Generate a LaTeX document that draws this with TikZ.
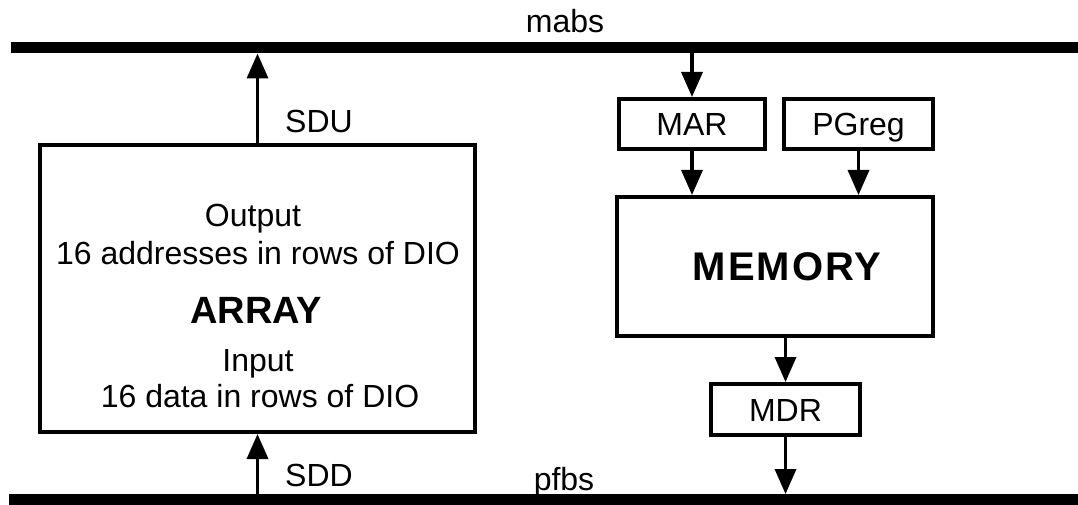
\documentclass[tikz,border=0pt]{standalone}
\usepackage{fontspec}
\setmainfont{Liberation Sans}
\usetikzlibrary{arrows.meta}

\tikzset{
  lbl/.style={font=\fontsize{32}{38}\selectfont, inner sep=0pt, anchor=base},
  boxlbl/.style={font=\fontsize{32}{38}\selectfont, text height=23pt, text depth=0pt},
  regbox/.style={draw, line width=4pt, rectangle, inner sep=0pt, boxlbl},
  bigbox/.style={draw, line width=4pt, rectangle, inner sep=0pt},
  bus/.style={fill=black, rectangle, inner sep=0pt, outer sep=0pt},
  conn/.style={line width=3.5pt, -{Triangle[width=21pt,length=25pt]}},
}

\begin{document}
\begin{tikzpicture}[x=1pt, y=-1pt]
  \useasboundingbox (0,0) rectangle (1078,505);

  % buses
  \node[bus, minimum width=1067pt, minimum height=11pt] (mabsbus) at (544.5,48) {};
  \node[bus, minimum width=1069pt, minimum height=14pt] (pfbsbus) at (543.5,501) {};
  \node[lbl] (mabs) at (565,33) {mabs};
  \node[lbl] (pfbs) at (564,490) {pfbs};

  % systolic array
  \node[bigbox, minimum width=435pt, minimum height=287pt] (array) at (257.5,288.5) {};
  \node[lbl] (outtxt) at (253,226) {Output};
  \node[lbl] (outdesc) at (258,264) {16 addresses in rows of DIO};
  \node[lbl, font=\fontsize{38}{44}\selectfont\bfseries] (arraytxt) at (256,323) {ARRAY};
  \node[lbl] (intxt) at (258,371) {Input};
  \node[lbl] (indesc) at (260,407) {16 data in rows of DIO};

  \node[lbl] (sdu) at (319,133) {SDU};
  \node[lbl] (sdd) at (319,486) {SDD};

  % memory side
  \node[regbox, minimum width=146pt, minimum height=50pt] (mar) at (692,124) {MAR};
  \node[regbox, minimum width=149pt, minimum height=50pt] (pgreg) at (858.5,124) {PGreg};
  \node[bigbox, minimum width=316pt, minimum height=139pt] (memory) at (775,266.5) {};
  \node[lbl, font=\fontsize{40}{46}\selectfont\bfseries\addfontfeatures{LetterSpace=5}] (memtxt) at (787,280) {MEMORY};
  \node[regbox, minimum width=149pt, minimum height=51pt] (mdr) at (785.5,409.5) {MDR};

  % connections
  \draw[conn] (array.north) -- (array.north |- mabsbus.south);
  \draw[conn] (array.south |- pfbsbus.north) -- (array.south);
  \draw[conn] (mar.north |- mabsbus.south) -- (mar.north);
  \draw[conn] (mar.south) -- (mar.south |- memory.north);
  \draw[conn] (pgreg.south) -- (pgreg.south |- memory.north);
  \draw[conn] (mdr.north |- memory.south) -- (mdr.north);
  \draw[conn] (mdr.south) -- (mdr.south |- pfbsbus.north);
\end{tikzpicture}
\end{document}
